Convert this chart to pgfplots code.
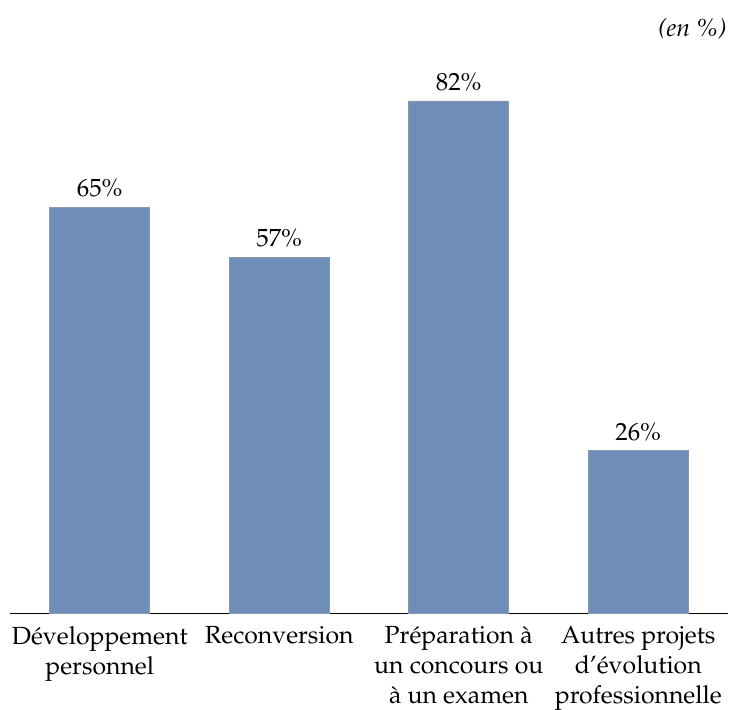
\documentclass[border=0pt]{standalone}
\usepackage[T1]{fontenc}
\usepackage{mathpazo}
\usepackage{pgfplots}
\pgfplotsset{compat=1.18}
\definecolor{barblue}{HTML}{6E8DB9}
\definecolor{baredge}{HTML}{8A98AC}
\begin{document}
\begin{tikzpicture}
\begin{axis}[
    width=359pt, height=281pt,
    scale only axis,
    xmin=-0.5, xmax=3.5,
    ymin=0, ymax=90,
    axis x line*=bottom,
    hide y axis,
    ybar, bar width=50pt,
    xtick=data,
    xticklabels={D\'eveloppement\\personnel, Reconversion, Pr\'eparation \`a\\un concours ou\\\`a un examen, Autres projets\\d'\'evolution\\professionnelle},
    xticklabel style={align=center, font=\fontsize{12.4}{15}\selectfont, yshift=-3pt},
    major tick length=0pt,
    nodes near coords={\pgfmathprintnumber{\pgfplotspointmeta}\%},
    every node near coord/.append style={font=\fontsize{12.4}{15}\selectfont, yshift=1.5pt},
    /pgf/number format/assume math mode=true,
    clip=false,
]
\addplot[fill=barblue, draw=baredge, line width=0.3pt] coordinates {(0,65) (1,57) (2,82) (3,26)};
\node[anchor=base east, font=\fontsize{12.4}{15}\selectfont\itshape, inner sep=0pt] at ([xshift=-0.5pt, yshift=7.5pt]rel axis cs:1,1) {(en~\%)};
\coordinate (O) at (rel axis cs:0,0);
\end{axis}
\pgfresetboundingbox
\path[use as bounding box] ([xshift=-5pt, yshift=-48pt]O) rectangle ([xshift=360.5pt, yshift=306.5pt]O);
\end{tikzpicture}
\end{document}
